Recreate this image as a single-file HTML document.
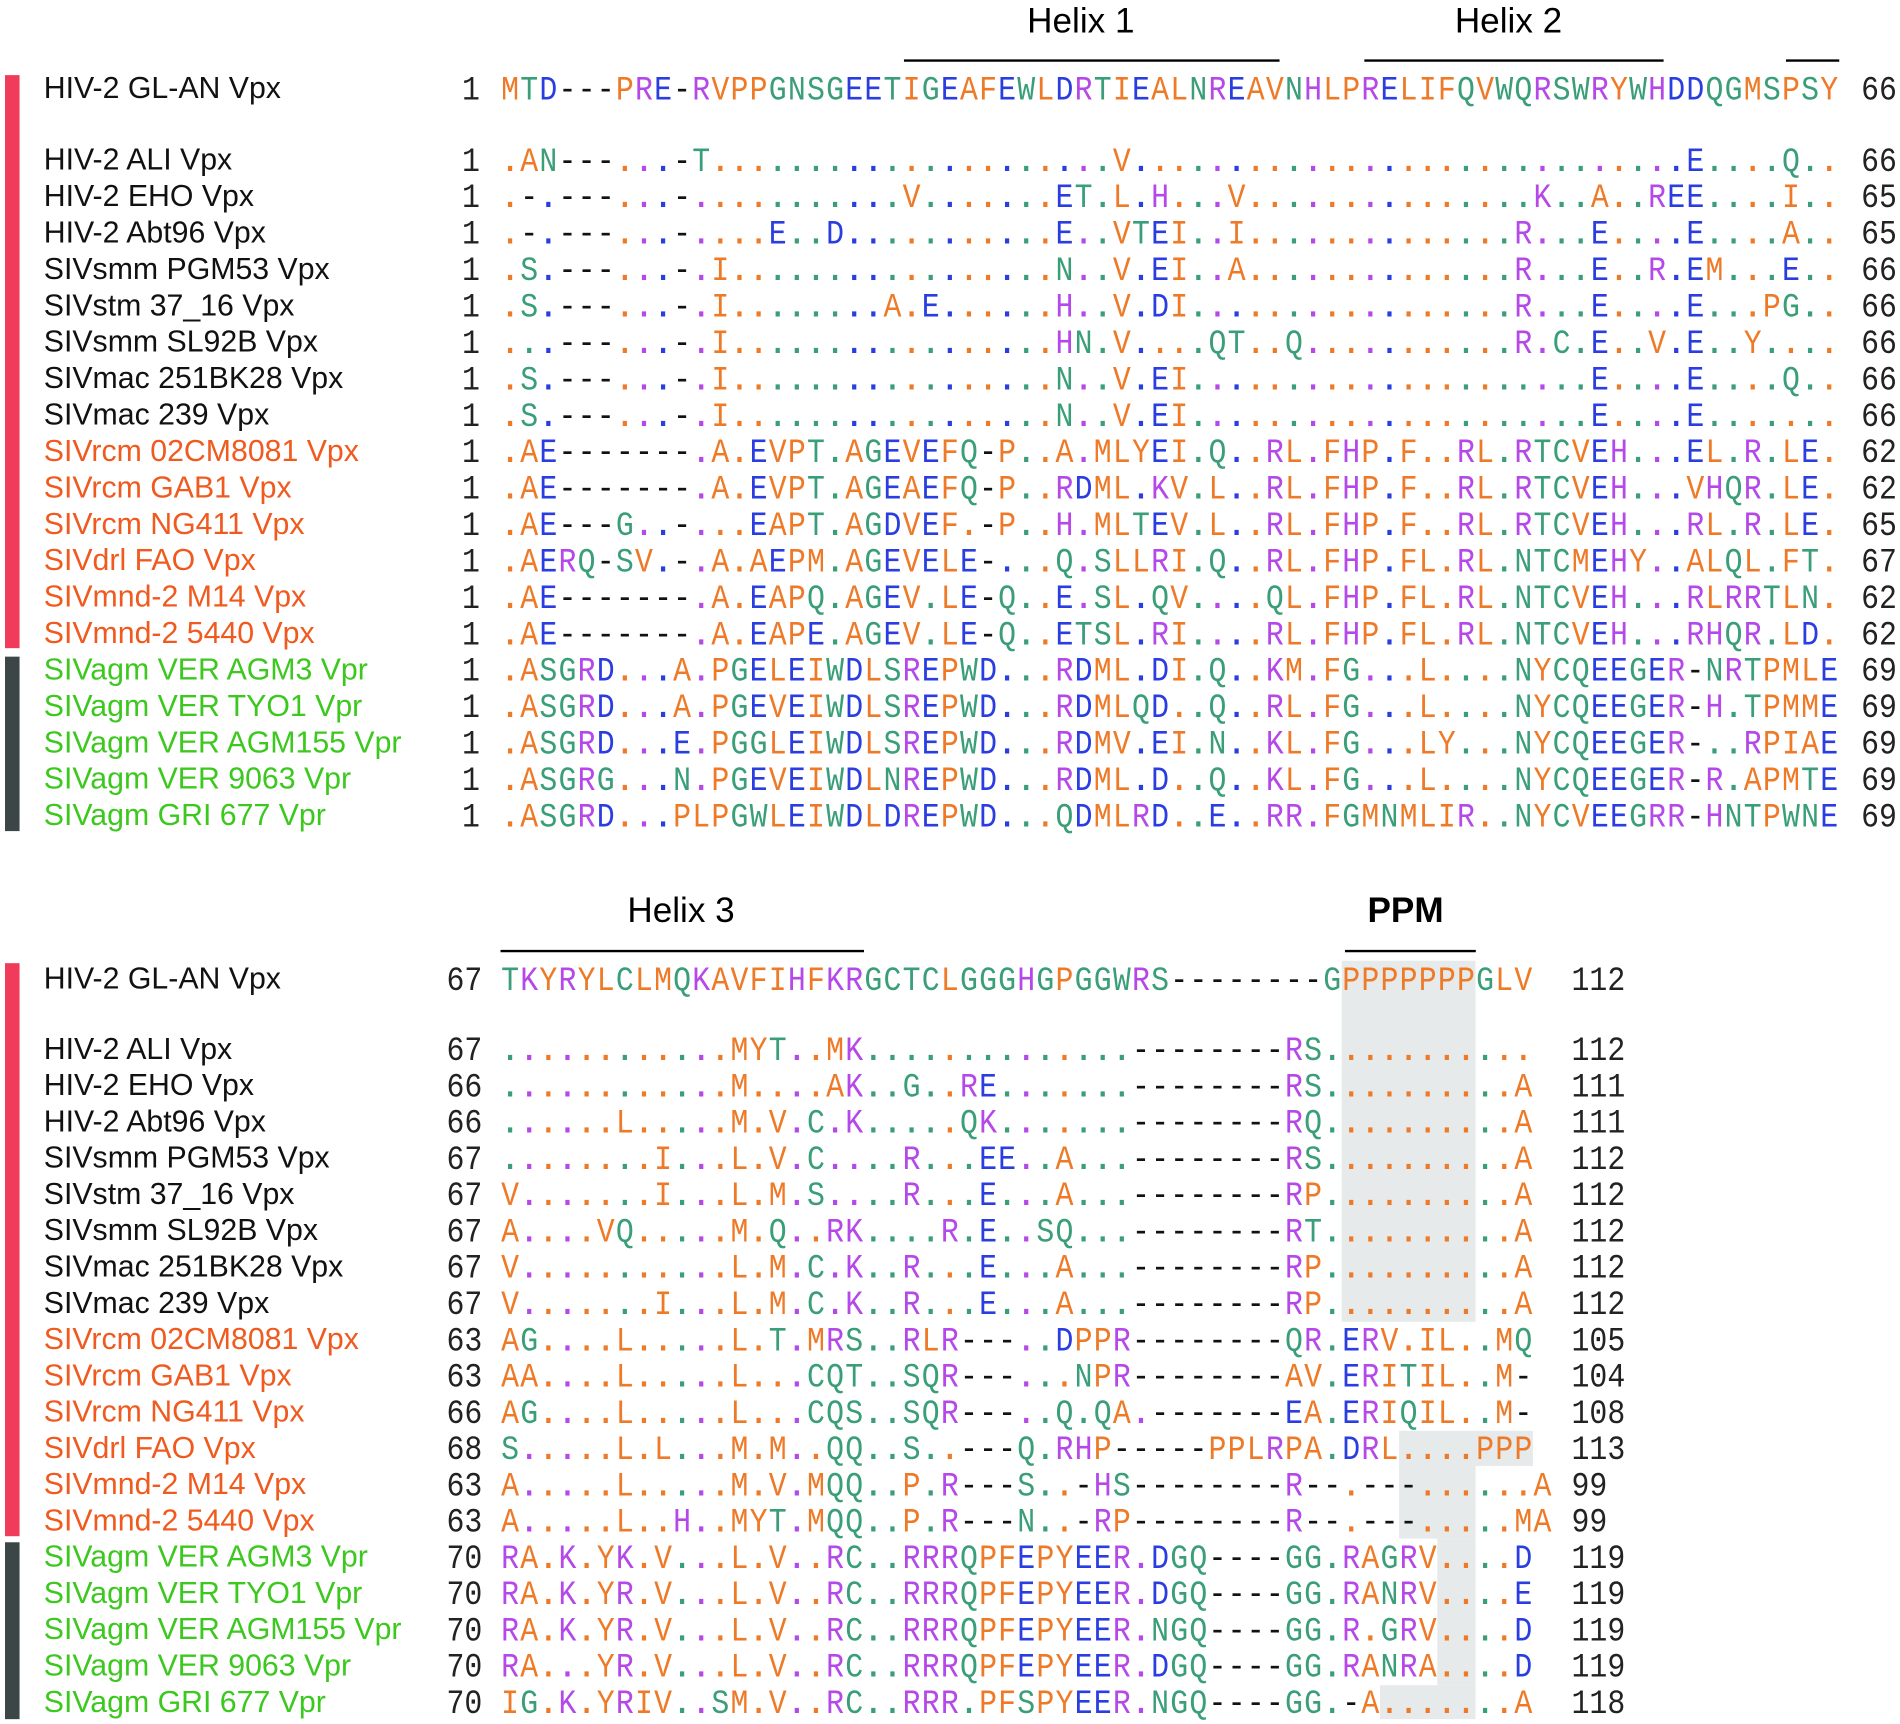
<!DOCTYPE html>
<html><head><meta charset="utf-8"><style>
html,body{margin:0;padding:0;background:#fff}
svg{display:block}
</style></head><body>
<svg id="fig" xmlns="http://www.w3.org/2000/svg" width="1900" height="1724" viewBox="0 0 1568 1423">
<rect x="0" y="0" width="1568" height="1423" fill="#fff"/>
<g id="shade" fill="#e6eaea"></g>
<g>
<rect x="4" y="62" width="12" height="473" fill="#f03c5a"/>
<rect x="4" y="542" width="12" height="144" fill="#3d4646"/>
<rect x="4" y="795" width="12" height="473" fill="#f03c5a"/>
<rect x="4" y="1273" width="12" height="146" fill="#3d4646"/>
</g>
<g font-family="Liberation Sans, sans-serif" font-size="29" fill="#000" text-anchor="middle">
<text x="892" y="27">Helix 1</text>
<text x="1245" y="27">Helix 2</text>
<text x="562" y="761">Helix 3</text>
<text x="1160" y="761" font-weight="bold">PPM</text>
</g>
<g stroke="#000" stroke-width="2">
<line x1="746" y1="50" x2="1056" y2="50"/>
<line x1="1126" y1="50" x2="1373" y2="50"/>
<line x1="1474" y1="50" x2="1518" y2="50"/>
<line x1="413" y1="785" x2="713" y2="785"/>
<line x1="1110" y1="785" x2="1218" y2="785"/>
</g>
<g id="rows"></g>
</svg>
<script>
const names = ["HIV-2 GL-AN Vpx","HIV-2 ALI Vpx","HIV-2 EHO Vpx","HIV-2 Abt96 Vpx","SIVsmm PGM53 Vpx","SIVstm 37_16 Vpx","SIVsmm SL92B Vpx","SIVmac 251BK28 Vpx","SIVmac 239 Vpx","SIVrcm 02CM8081 Vpx","SIVrcm GAB1 Vpx","SIVrcm NG411 Vpx","SIVdrl FAO Vpx","SIVmnd-2 M14 Vpx","SIVmnd-2 5440 Vpx","SIVagm VER AGM3 Vpr","SIVagm VER TYO1 Vpr","SIVagm VER AGM155 Vpr","SIVagm VER 9063 Vpr","SIVagm GRI 677 Vpr"];
const nameGroups = [0,0,0,0,0,0,0,0,0,1,1,1,1,1,1,2,2,2,2,2];
const topStart = [1,1,1,1,1,1,1,1,1,1,1,1,1,1,1,1,1,1,1,1];
const topEnd = [66,66,65,65,66,66,66,66,66,62,62,65,67,62,62,69,69,69,69,69];
const botStart = [67,67,66,66,67,67,67,67,67,63,63,66,68,63,63,70,70,70,70,70];
const botEnd = [112,112,111,111,112,112,112,112,112,105,104,108,113,99,99,119,119,119,119,118];
const topSeqs = [
"MTD---PRE-RVPPGNSGEETIGEAFEWLDRTIEALNREAVNHLPRELIFQVWQRSWRYWHDDQGMSPSY",
[[1,"AN---"],[9,"-T"],[32,"V"],[62,"E"],[67,"Q"]],
[[1,"-"],[3,"---"],[9,"-"],[21,"V"],[29,"ET"],[32,"L"],[34,"H"],[38,"V"],[54,"K"],[57,"A"],[60,"REE"],[67,"I"]],
[[1,"-"],[3,"---"],[9,"-"],[14,"E"],[17,"D"],[29,"E"],[32,"VTEI"],[38,"I"],[53,"R"],[57,"E"],[62,"E"],[67,"A"]],
[[1,"S"],[3,"---"],[9,"-"],[11,"I"],[29,"N"],[32,"V"],[34,"EI"],[38,"A"],[53,"R"],[57,"E"],[60,"R"],[62,"EM"],[67,"E"]],
[[1,"S"],[3,"---"],[9,"-"],[11,"I"],[20,"A"],[22,"E"],[29,"H"],[32,"V"],[34,"DI"],[53,"R"],[57,"E"],[62,"E"],[66,"PG"]],
[[3,"---"],[9,"-"],[11,"I"],[29,"HN"],[32,"V"],[37,"QT"],[41,"Q"],[53,"R"],[55,"C"],[57,"E"],[60,"V"],[62,"E"],[65,"Y"]],
[[1,"S"],[3,"---"],[9,"-"],[11,"I"],[29,"N"],[32,"V"],[34,"EI"],[57,"E"],[62,"E"],[67,"Q"]],
[[1,"S"],[3,"---"],[9,"-"],[11,"I"],[29,"N"],[32,"V"],[34,"EI"],[57,"E"],[62,"E"]],
".AE-------.A.EVPT.AGEVEFQ-P..A.MLYEI.Q..RL.FHP.F..RL.RTCVEH...EL.R.LE.",
".AE-------.A.EVPT.AGEAEFQ-P..RDML.KV.L..RL.FHP.F..RL.RTCVEH...VHQR.LE.",
".AE---G..-...EAPT.AGDVEF.-P..H.MLTEV.L..RL.FHP.F..RL.RTCVEH...RL.R.LE.",
".AERQ-SV.-.A.AEPM.AGEVELE-...Q.SLLRI.Q..RL.FHP.FL.RL.NTCMEHY..ALQL.FT.",
".AE-------.A.EAPQ.AGEV.LE-Q..E.SL.QV....QL.FHP.FL.RL.NTCVEH...RLRRTLN.",
".AE-------.A.EAPE.AGEV.LE-Q..ETSL.RI....RL.FHP.FL.RL.NTCVEH...RHQR.LD.",
".ASGRD...A.PGELEIWDLSREPWD...RDML.DI.Q..KM.FG...L....NYCQEEGER-NRTPMLE",
".ASGRD...A.PGEVEIWDLSREPWD...RDMLQD..Q..RL.FG...L....NYCQEEGER-H.TPMME",
".ASGRD...E.PGGLEIWDLSREPWD...RDMV.EI.N..KL.FG...LY...NYCQEEGER-..RPIAE",
".ASGRG...N.PGEVEIWDLNREPWD...RDML.D..Q..KL.FG...L....NYCQEEGER-R.APMTE",
".ASGRD...PLPGWLEIWDLDREPWD...QDMLRD..E..RR.FGMNMLIR..NYCVEEGRR-HNTPWNE"];
const botSeqs = [
"TKYRYLCLMQKAVFIHFKRGCTCLGGGHGPGGWRS--------GPPPPPPPGLV",
"............MYT..MK.............."+"--------RS"+"...........",
"............M....AK..G..RE......."+"--------RS"+"..........A",
"......L.....M.V.C.K.....QK......."+"--------RQ"+"..........A",
"........I...L.V.C....R...EE..A..."+"--------RS"+"..........A",
"V.......I...L.M.S....R...E...A..."+"--------RP"+"..........A",
"A....VQ.....M.Q..RK....R.E..SQ..."+"--------RT"+"..........A",
"V...........L.M.C.K..R...E...A..."+"--------RP"+"..........A",
"V.......I...L.M.C.K..R...E...A..."+"--------RP"+"..........A",
"AG....L.....L.T.MRS..RLR---..DPPR--------QR.ERV.IL..MQ",
"AA....L.....L...CQT..SQR---...NPR--------AV.ERITIL..M-",
"AG....L.....L...CQS..SQR---..Q.QA.-------EA.ERIQIL..M-",
"S.....L.L...M.M..QQ..S..---Q.RHP-----PPLRPA.DRL....PPP",
"A.....L.....M.V.MQQ..P.R---S..-HS--------R--.---......A",
"A.....L..H..MYT.MQQ..P.R---N..-RP--------R--.---.....MA",
"RA.K.YK.V...L.V..RC..RRRQPFEPYEER.DGQ----GG.RAGRV....D",
"RA.K.YR.V...L.V..RC..RRRQPFEPYEER.DGQ----GG.RANRV....E",
"RA.K.YR.V...L.V..RC..RRRQPFEPYEER.NGQ----GG.R.GRV....D",
"RA...YR.V...L.V..RC..RRRQPFEPYEER.DGQ----GG.RANRA....D",
"IG.K.YRIV..SM.V..RC..RRR.PFSPYEER.NGQ----GG.-A.......A"];

const NS="http://www.w3.org/2000/svg";
const CW=15.78, X0=413, SX=0.88;
const colOf = {};
"AVLIMFPY".split("").forEach(c=>colOf[c]="#ee7a28");
"GNSTQWC".split("").forEach(c=>colOf[c]="#3a9e78");
"RKH".split("").forEach(c=>colOf[c]="#b548e8");
"DE".split("").forEach(c=>colOf[c]="#2a3de0");
const labelCols=["#111","#f05a1e","#3cc81e"];
function expand(s,len){
  if(typeof s==="string") return s;
  const a=new Array(len).fill(".");
  s.forEach(p=>{for(let i=0;i<p[1].length;i++)a[p[0]+i]=p[1][i];});
  return a.join("");
}
const rows=document.getElementById("rows");
function drawBlock(seqs,len,yRef,yFirst,dy,starts,ends,startRight,endLeft){
  const ref=expand(seqs[0],len);
  for(let r=0;r<seqs.length;r++){
    const s=expand(seqs[r],len);
    const cy = r===0 ? yRef : yFirst+dy*(r-1);
    const lab=document.createElementNS(NS,"text");
    
    
    lab.setAttribute("x",36);lab.setAttribute("y",cy+8);
    lab.setAttribute("font-family","Liberation Sans, sans-serif");
    lab.setAttribute("font-size","25");
    lab.setAttribute("fill",labelCols[nameGroups[r]]);
    lab.textContent=names[r];
    rows.appendChild(lab);
    const st=document.createElementNS(NS,"text");
    
    
    st.setAttribute("transform","translate("+startRight+","+(cy+9)+") scale("+SX+",1)");
    st.setAttribute("text-anchor","end");
    st.setAttribute("font-family","Liberation Mono, monospace");
    st.setAttribute("font-size","28");st.setAttribute("fill","#222");
    st.textContent=starts[r];rows.appendChild(st);
    const en=document.createElementNS(NS,"text");
    
    
    en.setAttribute("transform","translate("+endLeft+","+(cy+9)+") scale("+SX+",1)");
    en.setAttribute("font-family","Liberation Mono, monospace");
    en.setAttribute("font-size","28");en.setAttribute("fill","#222");
    en.textContent=ends[r];rows.appendChild(en);
    const t=document.createElementNS(NS,"text");
    
    
    t.setAttribute("transform","translate(0,"+(cy+9)+") scale("+SX+",1)");
    t.setAttribute("font-family","Liberation Mono, monospace");
    t.setAttribute("font-size","28");
    t.setAttribute("text-anchor","middle");
    for(let c=0;c<s.length;c++){
      const ch=s[c];
      const sp=document.createElementNS(NS,"tspan");
      
      
      sp.setAttribute("x",((X0+(c+0.5)*CW)/SX).toFixed(2));
      let col="#111";
      if(ch===".") { col=colOf[ref[c]]||"#111"; sp.setAttribute("font-weight","bold"); }
      else if(ch!=="-") col=colOf[ch]||"#111";
      sp.setAttribute("fill",col);
      sp.textContent=ch;
      t.appendChild(sp);
    }
    rows.appendChild(t);
  }
}
drawBlock(topSeqs,70,73,132,30.06,topStart,topEnd,396,1536);
drawBlock(botSeqs,54,808,866,29.94,botStart,botEnd,398,1297);

const shadeCols=[[44,51,793,1091],[47,54,1181,1210],[47,51,1210,1270],[49,51,1270,1391],[46,51,1391,1419]];
const sh=document.getElementById("shade");
shadeCols.forEach(sc=>{
  const r=document.createElementNS(NS,"rect");
  
  
  r.setAttribute("x",X0+sc[0]*CW);r.setAttribute("width",(sc[1]-sc[0])*CW);
  r.setAttribute("y",sc[2]);r.setAttribute("height",sc[3]-sc[2]);
  sh.appendChild(r);
});
</script>
</body></html>
